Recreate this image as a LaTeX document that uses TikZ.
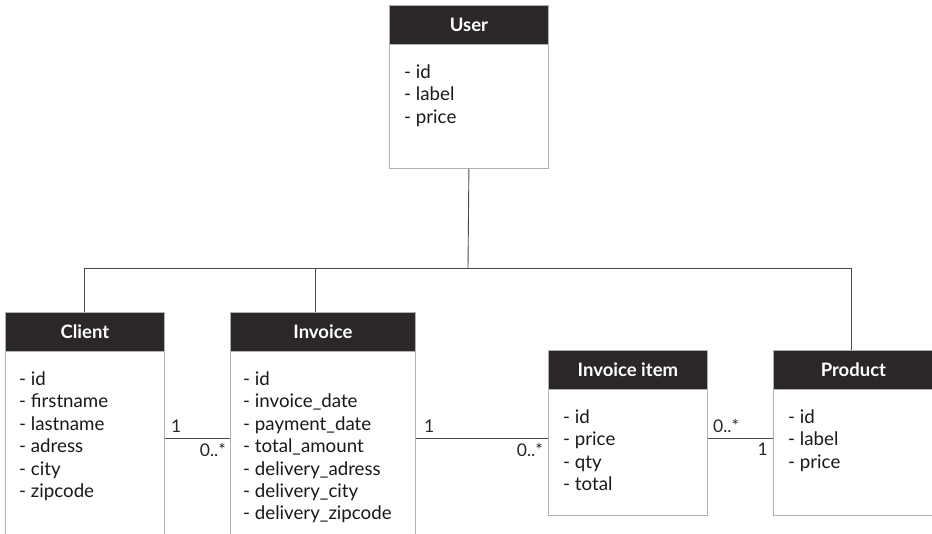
\documentclass[tikz,border=0pt]{standalone}
\usepackage{fontspec}
\setmainfont{Lato}
\definecolor{hdrcol}{HTML}{2B2728}
\definecolor{boxcol}{HTML}{B0B0B0}
\definecolor{linecol}{HTML}{4A4A4A}
\begin{document}
\begin{tikzpicture}[x=1pt,y=-1pt,
  hdr/.style={fill=hdrcol, draw=boxcol, line width=0.8pt, anchor=north west, minimum height=39, inner sep=0,
    text=white, font=\bfseries\fontsize{18.5}{21}\selectfont},
  body/.style={fill=white, draw=boxcol, line width=0.8pt, anchor=north west, inner sep=0},
  attr/.style={anchor=north west, align=left, inner sep=0, text=black!90, font=\fontsize{18.7}{22.4}\selectfont},
  conn/.style={draw=linecol, line width=0.9pt},
  mult/.style={inner sep=0, text=black!85, font=\fontsize{17.5}{20}\selectfont}]
\useasboundingbox (0,0) rectangle (932,533);
\clip (0,0) rectangle (932,533);
% User
\node[body, minimum width=159, minimum height=124] (userb) at (389,44) {};
\node[hdr, minimum width=159] (userh) at (389,5) {User};
\node[attr] (usera) at (404,64.5) {- id\\- label\\- price};
% Client
\node[body, minimum width=159, minimum height=220] (clientb) at (5,351) {};
\node[hdr, minimum width=159] (clienth) at (5,312) {Client};
\node[attr] (clienta) at (19,371.5) {- id\\- firstname\\- lastname\\- adress\\- city\\- zipcode};
% Invoice
\node[body, minimum width=185, minimum height=220] (invb) at (230,351) {};
\node[hdr, minimum width=185] (invh) at (230,312) {Invoice};
\node[attr] (inva) at (243,371.5) {- id\\- invoice\_date\\- payment\_date\\- total\_amount\\- delivery\_adress\\- delivery\_city\\- delivery\_zipcode};
% Invoice item
\node[body, minimum width=159, minimum height=126] (itemb) at (548,389) {};
\node[hdr, minimum width=159] (itemh) at (548,350) {Invoice item};
\node[attr] (itema) at (563,409.5) {- id\\- price\\- qty\\- total};
% Product
\node[body, minimum width=160, minimum height=126] (prodb) at (773,389) {};
\node[hdr, minimum width=160] (prodh) at (773,350) {Product};
\node[attr] (proda) at (788,409.5) {- id\\- label\\- price};
% inheritance tree
\coordinate (jc) at (468,268);
\coordinate (jl) at (84,268);
\coordinate (ji) at (315,268);
\coordinate (jr) at (851,268);
\draw[conn] (userb.south) -- (jc);
\draw[conn] (jl |- clienth.north) -- (jl) -- (jr) -- (jr |- prodh.north);
\draw[conn] (ji) -- (ji |- invh.north);
% associations
\coordinate (ly) at (0,438);
\draw[conn] (clientb.east |- ly) -- (invb.west |- ly);
\draw[conn] (invb.east |- ly) -- (itemb.west |- ly);
\draw[conn] (itemb.east |- ly) -- (prodb.west |- ly);
\node[mult, anchor=south west] (m1) at (171,433) {1};
\node[mult, anchor=north east] (m2) at (226,443) {0..*};
\node[mult, anchor=south west] (m3) at (424,433) {1};
\node[mult, anchor=north east] (m4) at (543,443) {0..*};
\node[mult, anchor=south west] (m5) at (713,433) {0..*};
\node[mult, anchor=north east] (m6) at (768,443) {1};
\end{tikzpicture}
\end{document}
